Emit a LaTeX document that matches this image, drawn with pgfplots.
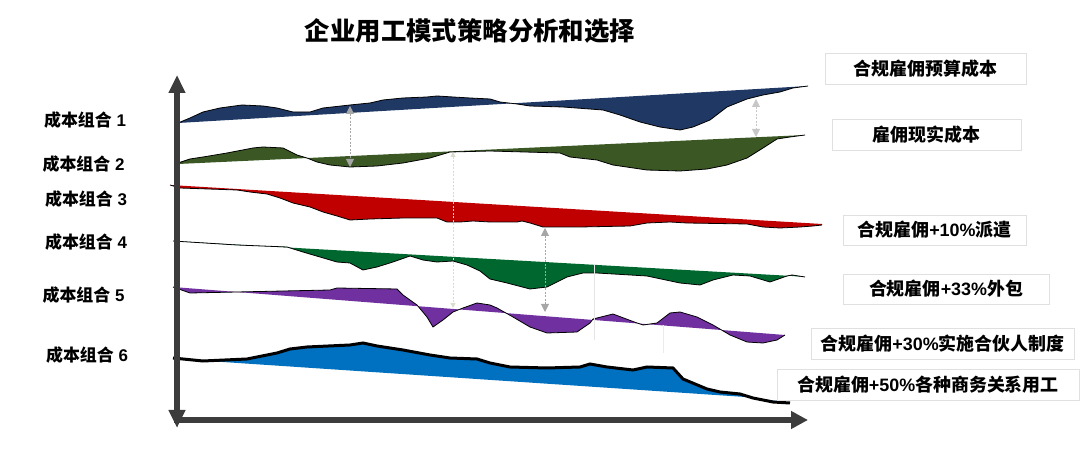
\documentclass[border=0pt]{standalone}
\usepackage{pgfplots}
\pgfplotsset{compat=1.18}
\usepackage{pgfplotstable}
\usepgfplotslibrary{fillbetween}
\usetikzlibrary{arrows.meta}
\usepackage{fontspec}
\setmainfont{Liberation Sans}
\newfontfamily\cjk{Noto Sans CJK SC}

\definecolor{cnavy}{HTML}{203864}
\definecolor{colive}{HTML}{3A5724}
\definecolor{cred}{HTML}{C00000}
\definecolor{cgreen}{HTML}{00682F}
\definecolor{cpurple}{HTML}{7030A0}
\definecolor{cblue}{HTML}{0070C0}
\definecolor{caxis}{HTML}{3C3C3C}
\definecolor{cbeige}{HTML}{DCDCCC}

% curves (pixel coords of the picture, y downwards)
\pgfplotstableread{
x y
178 123
190 118
203 112
220 108
242 105
263 106
277 108
293 112
310 112
323 108
350 105
370 103
383 100
403 98
427 97
437 96
453 97
470 98
490 99
500 102
517 104
530 106
563 107
603 110
620 115
640 122
660 127
680 130
693 127
710 120
727 107
747 99
763 95
780 92
793 88
808 86
}\curveA

\pgfplotstableread{
x y
175 164
190 159
203 157
227 153
253 148
263 147
283 148
297 155
307 158
317 162
330 165
350 167
377 166
403 163
430 158
440 155
450 152
490 151
560 153
570 157
597 160
613 165
647 170
680 171
707 169
727 165
747 158
763 148
777 139
790 137
805 135
}\curveB

\pgfplotstableread{
x y
170 185
180 188
237 190
250 192
267 194
280 198
293 203
310 207
323 212
337 216
350 220
370 219
403 218
437 218
447 222
460 222
473 221
490 222
517 222
522 221
530 223
543 227
580 227
630 226
647 223
670 222
687 223
747 224
763 227
780 228
800 227
813 226
822 225
}\curveC

\pgfplotstableread{
x y
173 241
237 245
287 247
303 252
320 257
337 262
350 263
363 270
377 267
393 262
410 256
423 260
437 262
453 261
467 265
480 271
490 279
507 283
530 289
547 287
567 277
583 273
597 273
647 276
680 283
700 285
713 280
733 275
750 276
770 282
787 276
792 275
805 277
}\curveD

\pgfplotstableread{
x y
173 287
190 293
237 292
330 290
337 288
397 289
403 295
417 305
427 317
433 327
443 320
453 312
463 308
477 303
490 305
497 308
513 317
530 327
547 333
577 332
590 323
593 319
613 314
637 323
643 325
657 323
670 313
680 312
697 317
713 325
730 335
747 342
763 343
777 340
785 335
}\curveE

\pgfplotstableread{
x y
173 358
203 361
247 359
257 357
277 353
290 349
307 347
350 345
363 343
377 346
403 350
430 355
450 358
477 359
490 363
510 367
547 368
580 367
590 364
607 367
633 370
647 367
673 368
683 379
707 389
720 392
740 394
753 398
773 402
790 403
}\curveF

\newcommand\lab[1]{\bfseries\fontsize{17}{19}\selectfont{\cjk 成本组合} #1}
\newcommand\tagbox[4]{\draw[draw=black!12, fill=white, line width=0.8bp] (#1) rectangle (#2);
  \node[inner sep=0pt, font=\bfseries\fontsize{18}{20}\selectfont] at (#3) {#4};}

\begin{document}
\begin{tikzpicture}
\begin{axis}[
    scale only axis, width=1088bp, height=468bp,
    xmin=0, xmax=1088, ymin=0, ymax=468,
    y dir=reverse, hide axis, clip=false,
]
\path (axis cs:0,0) rectangle (axis cs:1088,468);

% band 1
\addplot[draw=none, forget plot, name path=l1] coordinates {(178,123) (808,86)};
\addplot[draw=none, forget plot, name path=c1] table {\curveA};
\addplot[fill=cnavy, draw=none] fill between[of=l1 and c1];
\addplot[black, line width=0.8bp] table {\curveA};
% band 2
\addplot[draw=none, forget plot, name path=l2] coordinates {(178,164) (805,135)};
\addplot[draw=none, forget plot, name path=c2] table {\curveB};
\addplot[fill=colive, draw=none] fill between[of=l2 and c2];
\addplot[black, line width=0.8bp] table {\curveB};
% band 3
\addplot[draw=none, forget plot, name path=l3] coordinates {(170,185) (822,224)};
\addplot[draw=none, forget plot, name path=c3] table {\curveC};
\addplot[fill=cred, draw=none] fill between[of=l3 and c3];
\addplot[black, line width=0.8bp] table {\curveC};
% band 4
\addplot[draw=none, forget plot, name path=l4] coordinates {(173,241) (792,276)};
\addplot[draw=none, forget plot, name path=c4] table {\curveD};
\addplot[fill=cgreen, draw=none] fill between[of=l4 and c4];
\addplot[black, line width=0.8bp] table {\curveD};
% band 5
\addplot[draw=none, forget plot, name path=l5] coordinates {(173,287) (785,335)};
\addplot[draw=none, forget plot, name path=c5] table {\curveE};
\addplot[fill=cpurple, draw=none] fill between[of=l5 and c5];
\addplot[black, line width=0.8bp] table {\curveE};
% band 6
\addplot[draw=none, forget plot, name path=l6] coordinates {(178,359) (753,397.5)};
\addplot[draw=none, forget plot, name path=c6] table {\curveF};
\addplot[fill=cblue, draw=none] fill between[of=l6 and c6];
\addplot[black, line width=3bp] table {\curveF};

% gap markers
\draw[black!35, line width=0.9bp, dash pattern=on 2bp off 1.5bp,
  {Triangle[width=8bp,length=8bp]}-{Triangle[width=8bp,length=8bp]}] (350,106) -- (350,167);
\draw[black!22, line width=0.9bp, dash pattern=on 2bp off 1.5bp,
  {Triangle[width=8bp,length=8bp]}-{Triangle[width=8bp,length=8bp]}] (756,99) -- (756,137);
\draw[black!35, line width=0.9bp, dash pattern=on 2bp off 1.5bp,
  {Triangle[width=8bp,length=8bp]}-{Triangle[width=8bp,length=8bp]}] (545,228) -- (545,312);
\draw[cbeige, line width=0.9bp, dash pattern=on 2bp off 1.5bp,
  {Triangle[width=5bp,length=5bp]}-{Triangle[width=5bp,length=5bp]}] (453,152) -- (453,308);
\draw[black!10, line width=0.9bp] (594,265) -- (594,340);
\draw[black!8, line width=0.9bp] (663,325) -- (663,353);

% axes
\draw[caxis, line width=6bp, {Triangle[width=16bp,length=18bp]}-{Triangle[width=16bp,length=18bp]}]
  (177,428) -- (177,75);
\draw[caxis, line width=6bp, -{Triangle[width=17bp,length=17bp]}] (174,420) -- (808,420);

% title
\node[inner sep=0pt, font=\bfseries\fontsize{25.5}{27}\selectfont\cjk] at (470,31) {企业用工模式策略分析和选择};

% left labels
\node[inner sep=0pt] at (85,120.5) {\lab{1}};
\node[inner sep=0pt] at (83.5,164.5) {\lab{2}};
\node[inner sep=0pt] at (86,199) {\lab{3}};
\node[inner sep=0pt] at (86,242) {\lab{4}};
\node[inner sep=0pt] at (83.5,295.5) {\lab{5}};
\node[inner sep=0pt] at (87,355.5) {\lab{6}};

% right labels
\tagbox{825,53}{1026,84}{925.5,68.5}{{\cjk 合规雇佣预算成本}}
\tagbox{832,119}{1021,150}{926.5,134.5}{{\cjk 雇佣现实成本}}
\tagbox{843,215}{1026,245}{934.5,230}{{\cjk 合规雇佣}+10\%{\cjk 派遣}}
\tagbox{843,274}{1049,304}{946,289}{{\cjk 合规雇佣}+33\%{\cjk 外包}}
\tagbox{811,328}{1074,359}{942.5,343.5}{{\cjk 合规雇佣}+30\%{\cjk 实施合伙人制度}}
\tagbox{777,369}{1079,400}{928,384.5}{{\cjk 合规雇佣}+50\%{\cjk 各种商务关系用工}}
\end{axis}
\end{tikzpicture}
\end{document}
